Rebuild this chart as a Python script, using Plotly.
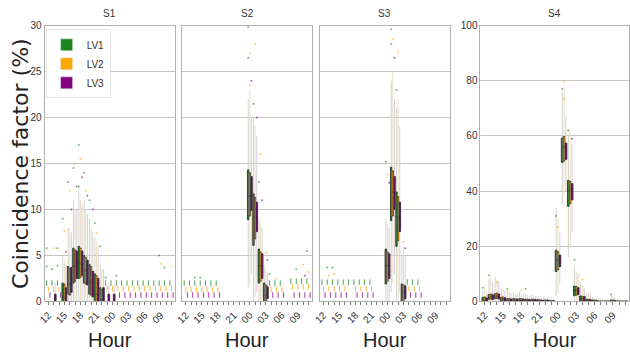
import plotly.graph_objects as go

HOURS = ["12","13","14","15","16","17","18","19","20","21","22","23",
         "00","01","02","03","04","05","06","07","08","09","10","11"]
TICK_LABELS = ["12","15","18","21","00","03","06","09"]
LVS = ["LV1", "LV2", "LV3"]
PANELS = ["S1", "S2", "S3", "S4"]
Z12 = [0]*12

# ---------------- S1 ----------------
S1_Q1 = [[0,0,0,0,0.8,2.0,2.5,2.0,0.8,0,0,0] + Z12,
         [0,0,0,0,0.7,2.2,2.6,1.9,0.7,0,0,0] + Z12,
         [0,0,0,0,1.0,2.5,2.8,1.8,0.5,0,0,0] + Z12]
S1_MED = [[0,0,0,0.5,1.8,3.8,4.2,3.5,2.2,0.8,0.2,0] + Z12,
          [0,0,0,0.5,1.9,3.9,4.1,3.4,2.1,0.8,0.2,0] + Z12,
          [0,0.3,0,0.3,2.0,3.9,4.0,3.3,2.0,0.7,0.3,0.3, 0.3,0,0,0,0,0,0,0,0,0,0,0]]
S1_Q3 = [[0,0,0,2.0,3.8,5.8,6.0,5.0,4.0,3.0,1.5,0] + Z12,
         [0,0,0,1.9,3.6,5.6,5.8,4.8,3.8,2.8,1.3,0] + Z12,
         [0,0.8,0,1.5,3.7,5.5,5.5,4.5,3.3,2.5,1.5,0.8, 0.8,0,0,0,0,0,0,0,0,0,0,0]]
S1_LO = [[0]*24, [0]*24, [0]*24]
S1_HI = [[0,0,0,5,8,11,12,11,9,7,4,0] + Z12,
         [0,0,0,4.5,8,10,11,10,8,6.5,3.5,0] + Z12,
         [0,2,0,4,7.5,10,10.5,9.5,7.5,6,3.5,2, 2,0,0,0,0,0,0,0,0,0,0,0]]
N = None
S1_MARK = [[2.0,2.0,2.0,N,N,N,N,N,N,N,N,2.0, 2.0,2.0,2.0,2.0,2.0,2.0,2.0,2.0,2.0,2.0,2.0,2.0],
           [1.3,1.3,1.3,N,N,N,N,N,N,N,N,1.4, 1.4,1.4,1.4,1.4,1.4,1.4,1.4,1.4,1.4,1.4,1.4,1.4],
           [0.7,N,0.7,N,N,N,N,N,N,N,N,N, N,0.7,0.7,0.7,0.7,0.7,0.7,0.7,0.7,0.7,0.7,0.7]]
S1_OUT = [("LV1","12",3.8),("LV1","13",3.5),("LV1","14",3.9),("LV1","12",5.8),("LV2","13",5.8),
          ("LV1","14",5.8),("LV1","15",9.0),("LV2","15",7.7),("LV3","15",5.4),("LV1","16",13.0),
          ("LV2","16",12.0),("LV3","16",10.0),("LV1","17",14.5),("LV2","17",15.0),("LV3","17",12.5),
          ("LV1","18",17.0),("LV2","18",15.5),("LV3","18",13.5),("LV1","18",12.5),("LV1","19",14.0),
          ("LV2","19",12.0),("LV3","19",11.5),("LV1","20",11.0),("LV3","20",10.0),("LV1","21",8.5),
          ("LV2","21",7.5),("LV1","22",6.0),("LV1","09",5.0),("LV2","09",4.1),("LV1","10",3.7),
          ("LV2","11",3.8),("LV1","23",2.6),("LV1","01",2.8)]

# ---------------- S2 ----------------
def _mk(vals):
    return Z12 + vals + [0]*(12 - len(vals))

S2_Q1 = [_mk([8.9,6.1,2.0,0]), _mk([9.3,6.8,2.2,0]), _mk([9.9,7.6,2.5,0.3])]
S2_MED = [_mk([11.5,9.2,3.9,0.7]), _mk([11.5,9.2,3.9,0.7]), _mk([11.5,9.2,3.9,0.8])]
S2_Q3 = [_mk([14.3,11.7,5.7,2.0]), _mk([14.0,11.3,5.4,1.8]), _mk([13.6,10.8,5.2,1.6])]
S2_LO = [_mk([1.5,0,0,0]), _mk([2.0,0.5,0,0]), _mk([3.0,1.0,0.3,0])]
S2_HI = [_mk([22,20,9,4]), _mk([23,19,8.5,3.5]), _mk([20,18,8,3])]
S2_MARK = [[2.0]*7 + [N]*9 + [2.0,2.0,2.0,N,2.2,2.2,2.2,2.2],
           [1.3]*7 + [N]*9 + [1.3,1.3,1.3,N,1.6,1.6,1.6,1.6],
           [0.7]*7 + [N]*9 + [0.7,0.7,0.7,N,0.7,0.7,0.7,0.7]]
S2_OUT = [("LV1","00",29.8),("LV2","00",27.0),("LV1","00",26.5),("LV3","00",24.0),("LV2","00",23.5),
          ("LV2","01",28.0),("LV1","01",21.5),("LV3","01",20.0),("LV2","02",16.0),("LV1","02",13.0),
          ("LV3","02",11.0),("LV2","03",5.3),("LV3","03",4.5),("LV1","04",3.0),("LV2","05",2.5),
          ("LV1","09",3.5),("LV2","10",4.0),("LV1","11",5.5),("LV2","11",3.2),("LV3","10",2.8),
          ("LV1","14",2.6),("LV1","15",2.6)]

# ---------------- S3 ----------------
S3_Q1 = [_mk([1.9,8.8,6.0,0]), _mk([2.2,9.3,6.6,0]), _mk([2.5,10.0,7.6,0.3])]
S3_MED = [_mk([3.9,11.9,9.2,1.2]), _mk([3.9,11.9,9.2,1.0]), _mk([3.9,11.9,9.2,1.1])]
S3_Q3 = [_mk([5.7,14.6,11.9,1.9]), _mk([5.4,14.2,11.4,1.8]), _mk([5.2,13.6,10.8,1.7])]
S3_LO = [_mk([0,1.0,0,0]), _mk([0,2.0,0.5,0]), _mk([0,3.0,1.0,0])]
S3_HI = [_mk([9,24,21,5]), _mk([8.5,25,22,6]), _mk([8,22,19,5])]
S3_MARK = [[2.1]*10 + [N]*6 + [2.1,2.1,2.1] + [N]*5,
           [1.4]*5 + [N] + [1.4]*4 + [N]*6 + [1.4,1.4,1.4] + [N]*5,
           [0.7]*5 + [N] + [0.7]*4 + [N]*6 + [0.7,0.7,0.7] + [N]*5]
S3_OUT = [("LV1","00",15.2),("LV2","00",13.8),("LV3","00",12.9),("LV1","01",29.6),("LV2","01",28.5),
          ("LV1","01",28.0),("LV3","01",26.5),("LV2","02",27.2),("LV1","02",23.0),("LV2","03",6.5),
          ("LV3","03",5.8),("LV1","13",3.7),("LV1","14",3.7),("LV2","14",3.0),("LV2","13",2.8)]

# ---------------- S4 ----------------
S4_Q1 = [[0,0.8,1.0,0.3,0,0,0,0,0,0,0,0, 10.9,50.4,34.5,2.1,0.3,0,0,0,0,0,0,0],
         [0,0.9,1.1,0.3,0,0,0,0,0,0,0,0, 11.5,50.9,35.5,2.3,0.3,0,0,0,0,0,0,0],
         [0,0.7,0.9,0.2,0,0,0,0,0,0,0,0, 12.7,51.5,36.8,2.5,0.2,0,0,0,0,0,0,0]]
S4_MED = [[0.5,1.5,1.8,0.8,0.3,0.3,0.3,0.2,0.2,0.2,0.2,0.1, 15,55.6,40,4.0,1.0,0.3,0.2,0,0,0.2,0,0],
          [0.5,1.6,1.9,0.8,0.3,0.3,0.3,0.2,0.2,0.2,0.2,0.1, 15,56,40.5,4.0,1.0,0.3,0.2,0,0,0.2,0,0],
          [0.4,1.5,1.7,0.7,0.3,0.3,0.2,0.2,0.2,0.1,0.1,0.1, 15,55.6,40,4.0,0.9,0.3,0.2,0,0,0.2,0,0]]
S4_Q3 = [[1.5,2.5,2.8,1.5,1.0,1.0,1.0,0.8,0.8,0.6,0.5,0.3, 18.6,59.2,43.9,5.6,2.0,0.8,0.5,0.2,0.2,0.5,0.2,0.2],
         [1.6,2.7,3.0,1.6,1.0,1.0,1.0,0.8,0.8,0.6,0.5,0.3, 18.0,59.8,43.5,5.4,1.9,0.8,0.5,0.2,0.2,0.5,0.2,0.2],
         [1.3,2.4,2.7,1.4,0.9,0.9,0.9,0.7,0.7,0.5,0.5,0.3, 16.8,57.4,42.7,5.0,1.8,0.7,0.4,0.2,0.2,0.4,0.2,0.2]]
S4_LO = [Z12 + [2,35,16,0,0,0,0,0,0,0,0,0],
         Z12 + [3,38,20,0,0,0,0,0,0,0,0,0],
         Z12 + [6.6,40,25,0,0,0,0,0,0,0,0,0]]
S4_HI = [[4,8,9,5,4,3,3.5,3,2.5,2,2,1.5, 34,76,60,13,7,3,1.5,1,0.5,2,1,0.5],
         [5,9,8,4.5,3.5,3,3,2.5,2.5,2,1.5,1.5, 30,78,62,11,6,3,1.5,1,0.5,2,1,0.5],
         [3.5,7,7.5,4,3,2.5,3,2,2,1.5,1.5,1, 25,67,57,10,5,2.5,1,0.5,0.5,1.5,0.5,0.5]]
S4_MARK = [[N]*24, [N]*24, [N]*24]
S4_OUT = [("LV1","13",9.5),("LV2","14",7.0),("LV1","12",5.0),("LV1","16",4.5),("LV2","18",4.0),
          ("LV1","19",4.5),("LV2","01",79.5),("LV1","01",77.0),("LV2","01",73.5),("LV1","00",31.0),
          ("LV2","00",27.0),("LV1","02",62.0),("LV3","02",59.0),("LV1","03",15.0),("LV2","04",8.0),
          ("LV1","09",2.5)]

Y_RANGES = [[0, 30], [0, 30], [0, 30], [0, 100]]
Y_TICKS = [[0, 5, 10, 15, 20, 25, 30]]*3 + [[0, 20, 40, 60, 80, 100]]

DATA = {
    "S1": (S1_Q1, S1_MED, S1_Q3, S1_LO, S1_HI, S1_MARK, S1_OUT),
    "S2": (S2_Q1, S2_MED, S2_Q3, S2_LO, S2_HI, S2_MARK, S2_OUT),
    "S3": (S3_Q1, S3_MED, S3_Q3, S3_LO, S3_HI, S3_MARK, S3_OUT),
    "S4": (S4_Q1, S4_MED, S4_Q3, S4_LO, S4_HI, S4_MARK, S4_OUT),
}

COLORS = {"LV1": "#1c861c", "LV2": "#ffa500", "LV3": "#800080"}
WHISK = {"LV1": "#d0d6c6", "LV2": "#ecdfc4", "LV3": "#dccddc"}
COND = "Liberation Sans Narrow, Liberation Sans, Arial, sans-serif"

X_DOMAINS = [[0.0603, 0.270], [0.281, 0.490], [0.502, 0.711], [0.760, 0.999]]
Y_DOMAIN = [0.148, 0.941]

fig = go.Figure()

for p, name in enumerate(PANELS):
    q1s, meds, q3s, los, his, marks, outs = DATA[name]
    xa = "x" if p == 0 else f"x{p+1}"
    ya = "y" if p == 0 else f"y{p+1}"
    for k, lv in enumerate(LVS):
        assert all(len(a[k]) == 24 for a in (q1s, meds, q3s, los, his, marks))
        fig.add_trace(go.Box(
            x=HOURS, q1=q1s[k], median=meds[k], q3=q3s[k],
            lowerfence=los[k], upperfence=his[k],
            line=dict(color=WHISK[lv], width=1), fillcolor="rgba(0,0,0,0)",
            whiskerwidth=0, offsetgroup=lv, showlegend=False, hoverinfo="skip",
            xaxis=xa, yaxis=ya))
        fig.add_trace(go.Box(
            x=HOURS, q1=q1s[k], median=meds[k], q3=q3s[k],
            lowerfence=q1s[k], upperfence=q3s[k],
            line=dict(color="#2a2a2a", width=0.8), fillcolor=COLORS[lv],
            whiskerwidth=0, offsetgroup=lv, showlegend=False, name=lv,
            xaxis=xa, yaxis=ya))
        mx = [h for h, v in zip(HOURS, marks[k]) if v is not None]
        my = [v for v in marks[k] if v is not None]
        ox = [h for (l, h, v) in outs if l == lv]
        oy = [v for (l, h, v) in outs if l == lv]
        fig.add_trace(go.Scatter(
            x=mx, y=my, mode="markers", offsetgroup=lv,
            marker=dict(symbol="line-ns", size=4, opacity=0.75,
                        line=dict(color=COLORS[lv], width=1)),
            showlegend=False, hoverinfo="skip", xaxis=xa, yaxis=ya))
        fig.add_trace(go.Scatter(
            x=ox, y=oy, mode="markers", offsetgroup=lv,
            marker=dict(symbol="circle", size=2, color=COLORS[lv], opacity=0.6),
            showlegend=False, hoverinfo="skip", xaxis=xa, yaxis=ya))

for lv in LVS:
    fig.add_trace(go.Bar(x=[None], y=[None], name=lv, marker=dict(color=COLORS[lv]),
                         xaxis="x", yaxis="y", showlegend=True))

layout = dict(
    width=630, height=358, margin=dict(l=0, r=0, t=0, b=0),
    paper_bgcolor="white", plot_bgcolor="white",
    boxmode="group", boxgap=0.1, boxgroupgap=0.0,
    scattermode="group", scattergap=0.1,
    font=dict(family=COND, color="#333", size=10),
    legend=dict(x=0.062, y=0.93, xanchor="left", yanchor="top",
                bgcolor="rgba(255,255,255,0.9)", bordercolor="#e8e8e8", borderwidth=1,
                font=dict(family=COND, size=10, color="#333"), itemwidth=30,
                tracegroupgap=2),
    showlegend=True,
)

ticktext = [h if h in TICK_LABELS else "" for h in HOURS]
annotations = []
for p, name in enumerate(PANELS):
    sx = "" if p == 0 else str(p + 1)
    layout["xaxis" + sx] = dict(
        domain=X_DOMAINS[p], anchor="y" + sx, type="category",
        categoryorder="array", categoryarray=HOURS, range=[-0.7, 23.7],
        tickmode="array", tickvals=HOURS, ticktext=ticktext, tickangle=-45,
        ticks="outside", ticklen=3, tickcolor="#777",
        tickfont=dict(family=COND, size=10, color="#333"),
        showline=True, linecolor="#b0b0b0", mirror=True, showgrid=False, zeroline=False)
    layout["yaxis" + sx] = dict(
        domain=Y_DOMAIN, anchor="x" + sx, range=Y_RANGES[p],
        tickmode="array", tickvals=Y_TICKS[p],
        showticklabels=(p in (0, 3)), ticks="",
        tickfont=dict(family=COND, size=10, color="#333"),
        showline=True, linecolor="#b0b0b0", mirror=True,
        showgrid=True, gridcolor="#c4c4c4", gridwidth=1, zeroline=False)
    xc = (X_DOMAINS[p][0] + X_DOMAINS[p][1]) / 2
    annotations.append(dict(text=name, x=xc, y=0.955, xref="paper", yref="paper",
                            xanchor="center", yanchor="bottom", showarrow=False,
                            font=dict(family=COND, size=10, color="#333")))
    annotations.append(dict(text="Hour", x=xc, y=0.0, xref="paper", yref="paper",
                            xanchor="center", yanchor="bottom", showarrow=False,
                            font=dict(family=COND, size=20, color="#222")))

annotations.append(dict(text="Coincidence factor (%)", x=0.022, y=0.545, xref="paper", yref="paper",
                        xanchor="center", yanchor="middle", textangle=-90, showarrow=False,
                        font=dict(family="DejaVu Sans, sans-serif", size=22, color="#222")))
layout["annotations"] = annotations

fig.update_layout(**layout)
fig.write_html("out.html")
